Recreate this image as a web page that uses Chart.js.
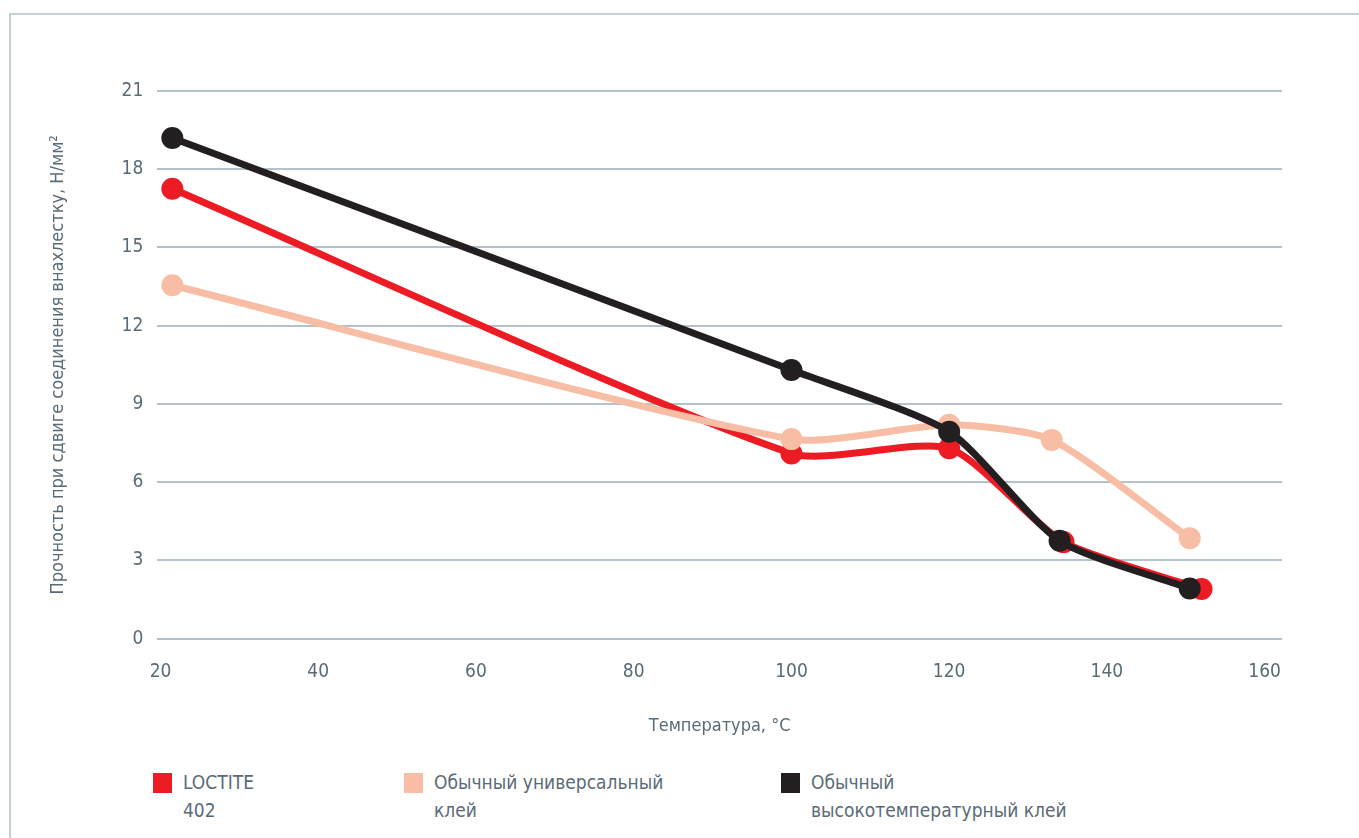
<!DOCTYPE html>
<html lang="ru">
<head>
<meta charset="utf-8">
<title>Прочность при сдвиге</title>
<script src="https://cdn.jsdelivr.net/npm/chart.js@4/dist/chart.umd.min.js"></script>
<style>
  html, body { margin: 0; padding: 0; background: #fff; }
  body { width: 1359px; height: 838px; position: relative; overflow: hidden;
         font-family: "DejaVu Sans Condensed", "Liberation Sans Narrow", Roboto, sans-serif; }
  .frame { position: absolute; left: 9px; top: 13px; right: -4px; bottom: -4px;
           border: 2px solid #c3d0d7; }
  #wrap { position: absolute; left: 0; top: 0; width: 1359px; height: 760px; }
  #legend { position: absolute; top: 768px; left: 0; }
  .item { position: absolute; white-space: nowrap; color: #5a6b76; font-size: 19px; line-height: 28px; }
  .item i { position: absolute; left: -30px; top: 5px; width: 19px; height: 20px; }
</style>
</head>
<body>
<div class="frame"></div>
<div id="wrap"><canvas id="chart" width="1359" height="760"></canvas></div>
<div id="legend"></div>
<script>
// ---- data ----
const seriesNames = [
  ['LOCTITE', '402'],
  ['Обычный универсальный', 'клей'],
  ['Обычный', 'высокотемпературный клей']
];
const loctiteX = [21.5, 100, 120, 134.5, 152];
const loctiteY = [17.25, 7.1, 7.3, 3.7, 1.9];
const universalX = [21.5, 100, 120, 133, 150.5];
const universalY = [13.55, 7.65, 8.2, 7.62, 3.85];
const hightempX = [21.5, 100, 120, 134, 150.5];
const hightempY = [19.2, 10.3, 7.93, 3.75, 1.92];
const xTicks = [20, 40, 60, 80, 100, 120, 140, 160];
const yTicks = [0, 3, 6, 9, 12, 15, 18, 21];
const xTitle = 'Температура, °C';
const yTitle = 'Прочность при сдвиге соединения внахлестку, Н/мм²';

const colors = ['#ed1c24', '#f8bea5', '#231f20'];
const textColor = '#5a6b76';
const gridColor = '#b4c3cb';
const fontFamily = '"DejaVu Sans Condensed", "Liberation Sans Narrow", Roboto, sans-serif';

function pts(xs, ys) {
  return xs.map((x, i) => ({ x: x, y: ys[i] }));
}

function line(idx, xs, ys, order) {
  return {
    label: seriesNames[idx].join(' '),
    data: pts(xs, ys),
    borderColor: colors[idx],
    backgroundColor: colors[idx],
    borderWidth: 7,
    pointRadius: 11,
    pointHoverRadius: 11,
    pointBorderWidth: 0,
    tension: 0.22,
    order: order
  };
}

const chart = new Chart(document.getElementById('chart'), {
  type: 'line',
  data: {
    datasets: [
      line(0, loctiteX, loctiteY, 2),
      line(1, universalX, universalY, 1),
      line(2, hightempX, hightempY, 0)
    ]
  },
  options: {
    responsive: false,
    animation: false,
    layout: { padding: { left: 48, right: 77, top: 91, bottom: 23 } },
    plugins: { legend: { display: false }, tooltip: { enabled: false } },
    scales: {
      x: {
        type: 'linear',
        min: 19.6,
        max: 162.2,
        afterBuildTicks: s => { s.ticks = xTicks.map(v => ({ value: v })); },
        grid: { display: false },
        border: { display: false },
        ticks: { color: textColor, font: { family: fontFamily, size: 19 }, padding: 14, maxRotation: 0 },
        title: { display: true, text: xTitle, color: textColor, font: { family: fontFamily, size: 18 }, padding: { top: 18, bottom: 0 } }
      },
      y: {
        min: 0,
        max: 21,
        afterBuildTicks: s => { s.ticks = yTicks.map(v => ({ value: v })); },
        grid: { color: gridColor, lineWidth: 2, drawTicks: false },
        border: { display: false },
        ticks: { color: textColor, font: { family: fontFamily, size: 19 }, padding: 14 },
        title: { display: true, text: yTitle, color: textColor, font: { family: fontFamily, size: 18 }, padding: { top: 0, bottom: 38 } }
      }
    }
  }
});

// legend below the chart, two lines per entry
const legendLeft = [183, 434, 811];
const legend = document.getElementById('legend');
seriesNames.forEach((name, i) => {
  const el = document.createElement('div');
  el.className = 'item';
  el.style.left = legendLeft[i] + 'px';
  el.innerHTML = '<i style="background:' + colors[i] + '"></i>' + name.join('<br>');
  legend.appendChild(el);
});
</script>
</body>
</html>
